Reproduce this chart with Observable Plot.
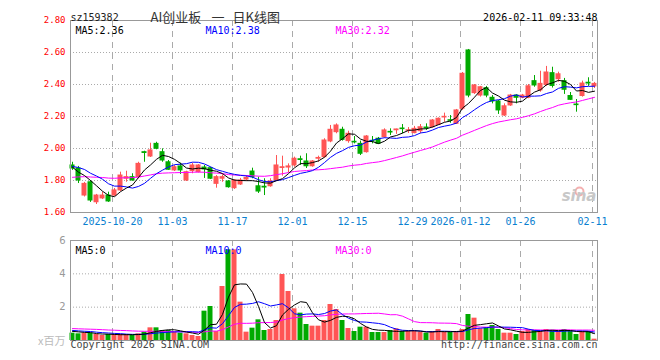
<!DOCTYPE html>
<html>
<head>
<meta charset="utf-8">
<script src="https://cdn.jsdelivr.net/npm/d3@7"></script>
<script src="https://cdn.jsdelivr.net/npm/@observablehq/plot@0.6"></script>
<style>
  html, body { margin: 0; padding: 0; background: #fff; }
  #wrap { position: relative; width: 660px; height: 360px; background: #fff; overflow: hidden; }
  #wrap svg { position: absolute; left: 0; }
</style>
</head>
<body>
<div id="wrap"></div>
<script>
// ---------- data ----------
const stockCode = "sz159382";
const chartTitle = "AI创业板 一 日K线图";
const timestamp = "2026-02-11 09:33:48";
const priceMaLabels = ["MA5:2.36", "MA10:2.38", "MA30:2.32"];
const volMaLabels = ["MA5:0", "MA10:0", "MA30:0"];
const priceTicks = [1.6, 1.8, 2.0, 2.2, 2.4, 2.6, 2.8];
const volTicks = [2, 4, 6];
const volUnit = "x百万";
const copyright = "Copyright 2026 SINA.COM";
const siteUrl = "http://finance.sina.com.cn";
const watermark = "sina";

const dates = [
  "2025-10-09","2025-10-10","2025-10-13","2025-10-14","2025-10-15","2025-10-16","2025-10-17",
  "2025-10-20","2025-10-21","2025-10-22","2025-10-23","2025-10-24","2025-10-27","2025-10-28",
  "2025-10-29","2025-10-30","2025-10-31",
  "2025-11-03","2025-11-04","2025-11-05","2025-11-06","2025-11-07","2025-11-10","2025-11-11",
  "2025-11-12","2025-11-13","2025-11-14","2025-11-17","2025-11-18","2025-11-19","2025-11-20",
  "2025-11-21","2025-11-24","2025-11-25","2025-11-26","2025-11-27","2025-11-28",
  "2025-12-01","2025-12-02","2025-12-03","2025-12-04","2025-12-05","2025-12-08","2025-12-09",
  "2025-12-10","2025-12-11","2025-12-12","2025-12-15","2025-12-16","2025-12-17","2025-12-18",
  "2025-12-19","2025-12-22","2025-12-23","2025-12-24","2025-12-25","2025-12-26","2025-12-29",
  "2025-12-30","2025-12-31",
  "2026-01-05","2026-01-06","2026-01-07","2026-01-08","2026-01-09","2026-01-12","2026-01-13",
  "2026-01-14","2026-01-15","2026-01-16","2026-01-19","2026-01-20","2026-01-21","2026-01-22",
  "2026-01-23","2026-01-26","2026-01-27","2026-01-28","2026-01-29","2026-01-30",
  "2026-02-02","2026-02-03","2026-02-04","2026-02-05","2026-02-06","2026-02-09","2026-02-10",
  "2026-02-11"
];
const dateTicks = ["2025-10-20","2025-11-03","2025-11-17","2025-12-01","2025-12-15","2025-12-29","2026-01-12","2026-01-26","2026-02-11"];
const dateTickLabels = ["2025-10-20","11-03","11-17","12-01","12-15","12-29","2026-01-12","01-26","02-11"];

const open = [
  1.894,1.875,1.706,1.789,1.664,1.688,1.706,1.706,1.738,1.811,
  1.821,1.821,1.977,1.950,2.029,1.977,1.914,1.863,1.888,1.800,
  1.859,1.852,1.881,1.877,1.779,1.811,1.794,1.752,1.775,1.806,
  1.856,1.764,1.761,1.764,1.800,1.878,1.881,1.894,1.933,1.919,
  1.889,1.936,1.946,2.044,2.102,2.117,2.046,2.042,2.029,1.977,
  2.048,2.061,2.071,2.104,2.114,2.125,2.111,2.096,2.108,2.131,
  2.133,2.147,2.194,2.177,2.154,2.248,2.613,2.346,2.331,2.377,
  2.317,2.294,2.206,2.269,2.331,2.317,2.317,2.421,2.363,2.397,
  2.471,2.433,2.421,2.328,2.275,2.328,2.411,2.388
];
const high = [
  1.914,1.888,1.788,1.800,1.713,1.727,1.727,1.750,1.852,1.858,
  1.842,1.914,1.983,2.033,2.039,1.998,1.925,1.894,1.908,1.858,
  1.908,1.900,1.894,1.883,1.831,1.836,1.800,1.806,1.813,1.831,
  1.877,1.821,1.811,1.811,1.956,1.952,1.904,1.946,1.952,1.967,
  1.925,1.952,2.061,2.144,2.154,2.133,2.108,2.075,2.046,2.081,
  2.075,2.069,2.123,2.123,2.121,2.150,2.131,2.138,2.150,2.154,
  2.181,2.191,2.221,2.206,2.244,2.475,2.619,2.400,2.388,2.388,
  2.331,2.300,2.279,2.338,2.336,2.338,2.400,2.456,2.483,2.513,
  2.508,2.477,2.438,2.350,2.306,2.421,2.442,2.413
];
const low = [
  1.863,1.781,1.697,1.663,1.650,1.681,1.663,1.700,1.731,1.789,
  1.796,1.811,1.914,1.944,1.992,1.914,1.863,1.856,1.838,1.794,
  1.842,1.847,1.813,1.806,1.752,1.789,1.752,1.744,1.769,1.794,
  1.811,1.719,1.706,1.758,1.794,1.827,1.848,1.883,1.894,1.875,
  1.883,1.914,1.939,2.036,2.092,2.046,2.033,2.029,1.956,1.971,
  2.029,2.025,2.064,2.081,2.088,2.092,2.094,2.092,2.092,2.113,
  2.128,2.144,2.164,2.158,2.150,2.238,2.317,2.338,2.321,2.317,
  2.279,2.213,2.200,2.263,2.279,2.311,2.311,2.383,2.352,2.388,
  2.378,2.414,2.338,2.300,2.227,2.321,2.388,2.375
];
const close = [
  1.875,1.800,1.779,1.675,1.706,1.706,1.669,1.738,1.831,1.821,
  1.800,1.904,1.972,1.988,1.998,1.925,1.867,1.883,1.863,1.852,
  1.894,1.894,1.869,1.811,1.821,1.821,1.758,1.800,1.800,1.816,
  1.821,1.731,1.756,1.794,1.894,1.883,1.888,1.936,1.928,1.889,
  1.919,1.941,2.050,2.117,2.144,2.054,2.092,2.038,1.967,2.075,
  2.044,2.029,2.113,2.100,2.119,2.121,2.114,2.123,2.133,2.127,
  2.175,2.186,2.198,2.173,2.238,2.467,2.331,2.394,2.383,2.331,
  2.294,2.238,2.264,2.331,2.317,2.331,2.389,2.394,2.404,2.475,
  2.391,2.464,2.367,2.304,2.271,2.406,2.406,2.404
];
// volume in millions
const volume = [
  0.44,0.40,0.44,0.44,0.36,0.30,0.36,0.36,0.36,0.36,
  0.30,0.40,0.50,0.76,0.76,0.60,0.60,0.50,0.44,0.40,
  0.30,0.24,1.76,2.04,0.54,3.24,5.44,5.44,2.30,0.50,
  0.74,1.24,0.60,0.66,1.20,3.96,2.94,1.90,1.64,0.96,
  0.86,0.86,1.20,2.16,1.86,1.20,0.72,0.54,0.80,0.80,
  0.48,0.48,0.48,0.60,0.70,0.54,0.54,0.54,0.50,0.44,
  0.54,0.66,0.50,0.50,0.50,0.66,1.56,1.34,0.70,0.76,
  0.90,0.66,0.44,0.44,0.36,0.54,0.66,0.60,0.56,0.66,
  0.60,0.54,0.66,0.54,0.36,0.54,0.54,0.08
];
// sessions before the visible window (needed for the moving averages at the left edge)
const priorCloses = [
  1.72,1.74,1.73,1.76,1.75,1.78,1.77,1.76,1.79,1.78,1.80,1.77,1.79,1.78,1.81,
  1.82,1.85,1.83,1.84,1.845,
  1.87,1.90,1.91,1.88,1.905,
  1.955,1.884,1.83,1.871
];
const priorVolumes = [
  0.90,0.75,0.80,0.70,0.85,0.95,0.70,0.80,0.65,0.90,
  0.75,0.80,0.70,0.85,0.70,0.75,0.80,0.65,0.70,0.75,
  0.70,0.65,0.60,0.75,0.62,0.55,0.60,0.50,0.65
];

// ---------- build ----------
const mono = "DejaVu Sans Mono";
const cjk = "Noto Sans CJK SC";
const upColor = "#ff5555", downColor = "#00aa00";
const maColors = ["#000000", "#0000ff", "#ff00ff"];

function movingAvg(values, prior, n) {
  const all = prior.concat(values);
  return values.map((_, i) => {
    const end = prior.length + i + 1;
    return d3.mean(all.slice(end - n, end));
  });
}
const cMa = [5, 10, 30].map(n => movingAvg(close, priorCloses, n));
const vMa = [5, 10, 30].map(n => movingAvg(volume, priorVolumes, n));

const rows = dates.map((d, i) => ({
  i, date: d, open: open[i], high: high[i], low: low[i], close: close[i], volume: volume[i],
  up: close[i] >= open[i],
  ma5: cMa[0][i], ma10: cMa[1][i], ma30: cMa[2][i],
  vma5: vMa[0][i], vma10: vMa[1][i], vma30: vMa[2][i]
}));
const tickPos = dateTicks.map(d => dates.indexOf(d) - 1 / 3);
const half = 5 / 12;
const xScale = {type: "linear", domain: [-1 / 3, dates.length - 0.5], axis: null};
const colorOf = d => d.up ? upColor : downColor;
const maOffsets = [5, 135, 265];
const titleParts = chartTitle.split(" ");
const titleOffsets = [80, 147.5, 162];
const titleAnchors = ["start", "middle", "start"];

const p1 = Plot.plot({
  width: 660, height: 230,
  marginTop: 20, marginRight: 63, marginBottom: 18, marginLeft: 70,
  x: xScale,
  y: {domain: [priceTicks[0], priceTicks[priceTicks.length - 1]], axis: null},
  style: {background: "transparent", fontFamily: mono, fontSize: "10px", overflow: "visible"},
  marks: [
    Plot.ruleY(priceTicks.slice(1, -1), {stroke: "#aaa", strokeDasharray: "1,2"}),
    Plot.ruleX(tickPos, {stroke: "#aaa", strokeDasharray: "6,5"}),
    Plot.ruleX(rows, {x: "i", y1: "low", y2: "high", stroke: colorOf}),
    Plot.rect(rows, {
      x1: d => d.i - half, x2: d => d.i + half,
      y1: d => Math.min(d.open, d.close), y2: d => Math.max(d.open, d.close),
      fill: colorOf, insetTop: -0.5, insetBottom: -0.5
    }),
    Plot.line(rows, {x: "i", y: "ma30", stroke: maColors[2], strokeWidth: 1}),
    Plot.line(rows, {x: "i", y: "ma10", stroke: maColors[1], strokeWidth: 1}),
    Plot.line(rows, {x: "i", y: "ma5", stroke: maColors[0], strokeWidth: 1}),
    Plot.frame({stroke: "#999"}),
    Plot.text(priceTicks, {x: () => -1 / 3, y: d => d, text: d => d.toFixed(2), textAnchor: "end", dx: -5, fill: "#ff0000", fontSize: 9}),
    Plot.text(dateTickLabels, {x: (d, i) => tickPos[i], y: () => priceTicks[0], dy: 9, text: d => d, fill: "#0a80d0"}),
    Plot.text([stockCode], {frameAnchor: "top-left", dy: -7, text: d => d, textAnchor: "start", fill: "#222"}),
    ...titleParts.map((t, k) => Plot.text([t], {frameAnchor: "top-left", dx: titleOffsets[k], dy: -8, text: d => d, textAnchor: titleAnchors[k], fill: "#333", fontFamily: cjk, fontSize: 13})),
    Plot.text([timestamp], {frameAnchor: "top-right", dy: -7, text: d => d, textAnchor: "end", fill: "#000"}),
    ...priceMaLabels.map((t, k) => Plot.text([t], {frameAnchor: "top-left", dx: maOffsets[k], dy: 6, text: d => d, textAnchor: "start", fill: maColors[k]})),
    Plot.dot([0], {frameAnchor: "bottom-right", dx: -18, dy: -21, r: 4, stroke: "#f4b0b0", strokeWidth: 2, fill: "none"}),
    Plot.text([watermark], {frameAnchor: "bottom-right", dx: -1, dy: -12, text: d => d, textAnchor: "end", fill: "#c8c8c8", fontFamily: "DejaVu Sans", fontSize: 15, fontWeight: "bold", fontStyle: "italic"})
  ]
});

const p2 = Plot.plot({
  width: 660, height: 130,
  marginTop: 10, marginRight: 63, marginBottom: 20, marginLeft: 70,
  x: xScale,
  y: {domain: [0, volTicks[volTicks.length - 1]], axis: null},
  style: {background: "transparent", fontFamily: mono, fontSize: "10px", overflow: "visible"},
  marks: [
    Plot.ruleY(volTicks.slice(0, -1), {stroke: "#aaa", strokeDasharray: "1,2"}),
    Plot.ruleX(tickPos, {stroke: "#aaa", strokeDasharray: "6,5"}),
    Plot.rect(rows, {x1: d => d.i - half, x2: d => d.i + half, y1: () => 0, y2: "volume", fill: colorOf}),
    Plot.line(rows, {x: "i", y: "vma30", stroke: maColors[2], strokeWidth: 1}),
    Plot.line(rows, {x: "i", y: "vma10", stroke: maColors[1], strokeWidth: 1}),
    Plot.line(rows, {x: "i", y: "vma5", stroke: maColors[0], strokeWidth: 1}),
    Plot.frame({stroke: "#999"}),
    Plot.text(volTicks, {x: () => -1 / 3, y: d => d, text: d => String(d), textAnchor: "end", dx: -5, fill: "#999", fontFamily: "DejaVu Sans", fontSize: 10}),
    Plot.text([volUnit], {x: () => -1 / 3, y: () => 0, dy: 1, text: d => d, textAnchor: "end", dx: -5, fill: "#bbb", fontFamily: cjk, fontSize: 11}),
    ...volMaLabels.map((t, k) => Plot.text([t], {frameAnchor: "top-left", dx: maOffsets[k], dy: 6, text: d => d, textAnchor: "start", fill: maColors[k]})),
    Plot.text([copyright], {frameAnchor: "bottom-left", dy: 7, text: d => d, textAnchor: "start", fill: "#444"}),
    Plot.text([siteUrl], {frameAnchor: "bottom-right", dy: 7, text: d => d, textAnchor: "end", fill: "#444"})
  ]
});

const wrap = document.getElementById("wrap");
p1.style.top = "0px";
p2.style.top = "230px";
wrap.appendChild(p1);
wrap.appendChild(p2);
</script>
</body>
</html>
